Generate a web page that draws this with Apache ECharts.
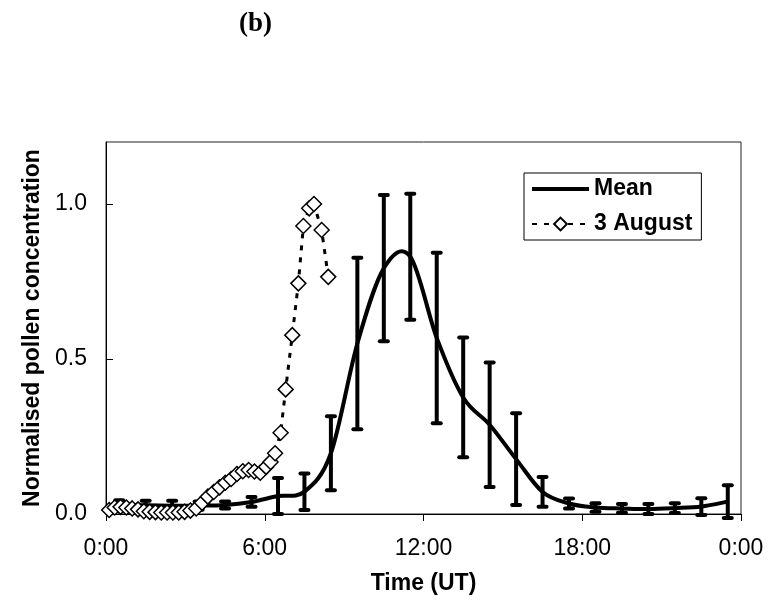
<!DOCTYPE html>
<html>
<head>
<meta charset="utf-8">
<script src="https://cdn.jsdelivr.net/npm/echarts@6/dist/echarts.min.js"></script>
<style>html,body{margin:0;padding:0;background:#fff;}#c{width:776px;height:604px;}</style>
</head>
<body>
<div id="c"></div>
<script>
// ---- data ----
const meanHours = [0.5, 1.5, 2.5, 3.5, 4.5, 5.5, 6.5, 7.5, 8.5, 9.5, 10.5, 11.5, 12.5, 13.5, 14.5, 15.5, 16.5, 17.5, 18.5, 19.5, 20.5, 21.5, 22.5, 23.5];
const meanValues = [0.028, 0.028, 0.027, 0.027, 0.029, 0.039, 0.058, 0.072, 0.196, 0.55, 0.793, 0.83, 0.568, 0.376, 0.288, 0.177, 0.071, 0.034, 0.021, 0.018, 0.016, 0.019, 0.024, 0.04];
const meanSD = [0.016, 0.015, 0.016, 0.013, 0.011, 0.016, 0.058, 0.059, 0.119, 0.277, 0.236, 0.203, 0.275, 0.193, 0.201, 0.148, 0.048, 0.016, 0.014, 0.014, 0.016, 0.016, 0.027, 0.053];

const augHours = [0.12, 0.33, 0.55, 0.77, 0.99, 1.21, 1.43, 1.65, 1.87, 2.09, 2.31, 2.53, 2.75, 2.97, 3.19, 3.41, 3.63, 3.85, 4.07, 4.29, 4.51, 4.73, 4.95, 5.17, 5.39, 5.61, 5.83, 6.05, 6.22, 6.39, 6.6, 6.79, 7.04, 7.27, 7.46, 7.68, 7.86, 8.15, 8.4];
const augValues = [0.013, 0.021, 0.023, 0.021, 0.018, 0.015, 0.009, 0.007, 0.006, 0.005, 0.005, 0.005, 0.005, 0.007, 0.011, 0.018, 0.036, 0.056, 0.071, 0.086, 0.101, 0.113, 0.129, 0.138, 0.142, 0.137, 0.133, 0.152, 0.168, 0.196, 0.262, 0.402, 0.577, 0.744, 0.929, 0.986, 1.0, 0.916, 0.765];

const xTicks = [0, 6, 12, 18, 24];
const xTickLabels = ['0:00', '6:00', '12:00', '18:00', '0:00'];
const yTicks = [0, 0.5, 1.0];
const yTickLabels = ['0.0', '0.5', '1.0'];

const seriesNames = ['Mean', '3 August'];
const xTitle = 'Time (UT)';
const yTitle = 'Normalised pollen concentration';
const panelTitle = '(b)';

// ---- chart ----
const chart = echarts.init(document.getElementById('c'), null, {renderer: 'canvas'});
const FONT = 'Arial, "Liberation Sans", sans-serif';

const meanData = meanHours.map((h, i) => [h, meanValues[i]]);
const errData = meanHours.map((h, i) => [h, meanValues[i] - meanSD[i], meanValues[i] + meanSD[i]]);
const augData = augHours.map((h, i) => [h, augValues[i]]);

// smoothed (Catmull-Rom style) curve through the mean points, via axis coords
function smoothPath(api) {
  const p = meanData.map(d => api.coord(d));
  let s = 'M' + p[0][0] + ',' + p[0][1];
  for (let i = 0; i < p.length - 1; i++) {
    const p0 = p[i - 1] || p[i], p1 = p[i], p2 = p[i + 1], p3 = p[i + 2] || p[i + 1];
    const c1 = [p1[0] + (p2[0] - p0[0]) / 6, p1[1] + (p2[1] - p0[1]) / 6];
    const c2 = [p2[0] - (p3[0] - p1[0]) / 6, p2[1] - (p3[1] - p1[1]) / 6];
    s += 'C' + c1[0] + ',' + c1[1] + ' ' + c2[0] + ',' + c2[1] + ' ' + p2[0] + ',' + p2[1];
  }
  return s;
}

chart.setOption({
  animation: false,
  backgroundColor: '#fff',
  title: {
    text: panelTitle, left: 234, top: 6,
    textStyle: {fontFamily: '"Liberation Serif", "Times New Roman", serif', fontWeight: 'bold', fontSize: 27, color: '#000'}
  },
  grid: {left: 106, right: 35, top: 142, bottom: 90, show: true, borderColor: '#222', borderWidth: 1, containLabel: false},
  legend: {
    orient: 'vertical', left: 524, top: 173,
    data: [
      {name: seriesNames[0], itemStyle: {opacity: 0}, lineStyle: {opacity: 1, color: '#000', width: 4}},
      {name: seriesNames[1]}
    ],
    itemWidth: 57, itemHeight: 16, itemGap: 11,
    padding: [4, 9, 4, 6],
    borderColor: '#000', borderWidth: 1, backgroundColor: '#fff',
    textStyle: {fontFamily: FONT, fontWeight: 'bold', fontSize: 23, color: '#000', lineHeight: 24},
    selectedMode: false
  },
  xAxis: {
    type: 'value', min: 0, max: 24, interval: 6,
    name: xTitle, nameLocation: 'middle', nameGap: 58,
    nameTextStyle: {fontFamily: FONT, fontWeight: 'bold', fontSize: 23, color: '#000'},
    axisLine: {show: true, onZero: false, lineStyle: {color: '#000', width: 1}},
    axisTick: {show: true, inside: false, length: 7, lineStyle: {color: '#000'}, customValues: xTicks},
    axisLabel: {
      fontFamily: FONT, fontSize: 23, color: '#000', margin: 23,
      customValues: xTicks,
      formatter: v => xTickLabels[xTicks.indexOf(v)]
    },
    splitLine: {show: false}
  },
  yAxis: {
    type: 'value', min: 0, max: 1.2,
    name: yTitle, nameLocation: 'middle', nameGap: 62,
    nameTextStyle: {fontFamily: FONT, fontWeight: 'bold', fontSize: 23, color: '#000'},
    axisLine: {show: true, onZero: false, lineStyle: {color: '#000', width: 1}},
    axisTick: {show: true, inside: true, length: 7, lineStyle: {color: '#000'}, customValues: yTicks},
    axisLabel: {
      fontFamily: FONT, fontSize: 23, color: '#000', margin: 19,
      customValues: yTicks,
      formatter: v => yTickLabels[yTicks.indexOf(v)]
    },
    splitLine: {show: false}
  },
  series: [
    {
      // legend carrier for the mean curve (curve itself drawn by the custom series below)
      name: seriesNames[0], type: 'line', data: meanData,
      symbol: 'none', z: 1, silent: true,
      lineStyle: {color: '#000', width: 4, opacity: 0}, itemStyle: {color: '#000'}
    },
    {
      name: 'meanCurve', type: 'custom', data: [[0, 0]], z: 3, silent: true,
      renderItem: function (params, api) {
        return {
          type: 'path',
          shape: {pathData: smoothPath(api)},
          style: {fill: null, stroke: '#000', lineWidth: 4, lineJoin: 'round'}
        };
      }
    },
    {
      name: 'errorbars', type: 'custom', data: errData, z: 4, silent: true,
      renderItem: function (params, api) {
        const x = api.value(0);
        const lo = api.coord([x, api.value(1)]);
        const hi = api.coord([x, api.value(2)]);
        const hw = 4;
        const st = {stroke: '#000', lineWidth: 4, lineCap: 'round'};
        return {
          type: 'group',
          children: [
            {type: 'line', shape: {x1: lo[0], y1: lo[1], x2: hi[0], y2: hi[1]}, style: Object.assign({}, st, {lineCap: 'butt'})},
            {type: 'line', shape: {x1: lo[0] - hw, y1: lo[1], x2: lo[0] + hw, y2: lo[1]}, style: st},
            {type: 'line', shape: {x1: hi[0] - hw, y1: hi[1], x2: hi[0] + hw, y2: hi[1]}, style: st}
          ]
        };
      }
    },
    {
      name: seriesNames[1], type: 'line', data: augData, smooth: false, z: 5,
      symbol: 'diamond', symbolSize: 15, showSymbol: true,
      lineStyle: {color: '#000', width: 3, type: [5, 7]},
      itemStyle: {color: '#fff', borderColor: '#000', borderWidth: 1.5}
    }
  ]
});
</script>
</body>
</html>
